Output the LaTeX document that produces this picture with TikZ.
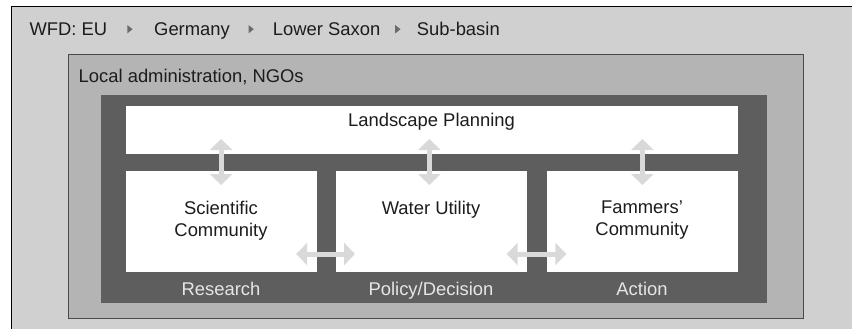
\documentclass[tikz,border=0pt]{standalone}
\usepackage{fontspec}
\setmainfont{Liberation Sans}
\usetikzlibrary{arrows.meta,calc,positioning}
\definecolor{Paper}{HTML}{D0D0D0}
\definecolor{Frame}{HTML}{B4B4B4}
\definecolor{FrameLine}{HTML}{4A4A4A}
\definecolor{Slate}{HTML}{5E5E5E}
\definecolor{Mist}{HTML}{D9D9D9}
\definecolor{Ink}{HTML}{1C1C1C}
\definecolor{Marker}{HTML}{6A6A6A}
\definecolor{Caption}{HTML}{E6E6E6}
\newcommand{\crumb}[2]{%
  \fill[Marker] (#1,#2) -- ++(5.3,4.2) -- ++(-5.3,4.2) -- cycle;
}
\tikzset{
  box/.style={inner sep=0pt,outer sep=0pt,anchor=north west},
  panel/.style={box,fill=white,minimum width=191.2,minimum height=101},
  txt/.style={inner sep=0pt,text=Ink,font=\fontsize{18.4}{22.4}\selectfont},
  caption/.style={txt,text=Caption},
  link/.style={draw=Mist,line width=5pt,{Triangle[width=22pt,length=11pt]}-{Triangle[width=22pt,length=11pt]}}
}

\begin{document}
\begin{tikzpicture}[x=1pt,y=-1pt]
        \useasboundingbox (0,0) rectangle (852,329);
        \clip (0,0) rectangle (852,329);
        \node[box,draw=black,line width=1.3pt,fill=Paper,minimum width=860,minimum height=340] (basin) at (11.7,6.7) {};
        \node[box,draw=FrameLine,line width=0.8pt,fill=Frame,minimum width=735,minimum height=263.5] (admin) at (68,54.5) {};
        \node[box,fill=Slate,minimum width=666,minimum height=207.5] (core) at (101,95) {};
        \node[box,fill=white,minimum width=612.5,minimum height=48] (land) at (125.5,106) {};
        \node[panel] (sci) at (125.5,171) {};
        \node[panel,minimum width=190.7] (wat) at (336,171) {};
        \node[panel] (farm) at (546.8,171) {};
        % scale breadcrumb
        \node[txt,anchor=base west] (eu) at (29.3,35.7) {WFD: EU};
        \node[txt,anchor=base west] (de) at (154,35.7) {Germany};
        \node[txt,anchor=base west] (ls) at (272.7,35.7) {Lower Saxon};
        \node[txt,anchor=base west] (sb) at (416.7,35.7) {Sub-basin};
        \crumb{127.3}{25}\crumb{248.5}{25}\crumb{395.2}{25}
        \node[txt,anchor=base west] (adminlbl) at (78.5,82.7) {Local administration, NGOs};
        \node[txt,anchor=base] (landlbl) at (431.5,126.7) {Landscape Planning};
        \node[txt,align=center] (scilbl) at (221,220.5) {Scientific\\Community};
        \node[txt,anchor=base] (watlbl) at (431,214.3) {Water Utility};
        \node[txt,align=center] (farmlbl) at (642,220.3) {Fammers'\\Community};
        \node[caption,anchor=base] (res) at (221,295.7) {Research};
        \node[caption,anchor=base] (pol) at (431,295.7) {Policy/Decision};
        \node[caption,anchor=base] (act) at (642,295.7) {Action};
        % exchange arrows
        \draw[link,shorten <=-14pt,shorten >=-15pt] (sci.north) -- (sci.north |- land.south);
        \draw[link,shorten <=-14pt,shorten >=-15pt] ([xshift=-2pt]wat.north) -- ([xshift=-2pt]wat.north |- land.south);
        \draw[link,shorten <=-14pt,shorten >=-15pt] (farm.north) -- (farm.north |- land.south);
        \draw[link,shorten <=-20.5pt,shorten >=-19pt] ($(sci.south east)+(0,-18)$) -- ($(wat.south west)+(0,-18)$);
        \draw[link,shorten <=-20pt,shorten >=-19.5pt] ($(wat.south east)+(0,-18)$) -- ($(farm.south west)+(0,-18)$);
      \end{tikzpicture}
\end{document}
